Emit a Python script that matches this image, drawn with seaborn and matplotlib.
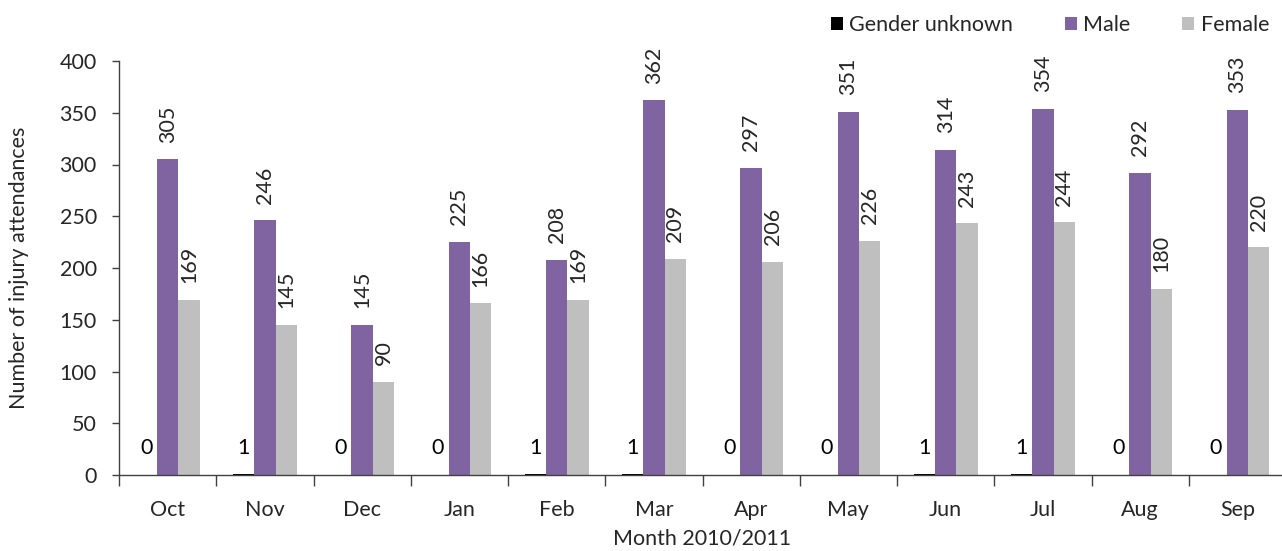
import matplotlib
matplotlib.use("Agg")
import matplotlib.pyplot as plt
import matplotlib.patches as mpatches
import seaborn as sns
import pandas as pd
import numpy as np

months = ["Oct", "Nov", "Dec", "Jan", "Feb", "Mar", "Apr", "May", "Jun", "Jul", "Aug", "Sep"]
series_names = ["Gender unknown", "Male", "Female"]
unknown = [0, 1, 0, 0, 1, 1, 0, 0, 1, 1, 0, 0]
male = [305, 246, 145, 225, 208, 362, 297, 351, 314, 354, 292, 353]
female = [169, 145, 90, 166, 169, 209, 206, 226, 243, 244, 180, 220]
colors = ["#000000", "#8064A2", "#BFBFBF"]

sns.set_theme(style="white")
plt.rcParams['font.family'] = ['Lato', 'DejaVu Sans']

df = pd.DataFrame({
    "Month": months * 3,
    "Series": [series_names[0]] * 12 + [series_names[1]] * 12 + [series_names[2]] * 12,
    "Value": unknown + male + female,
})

W, H = 1282, 551
fig = plt.figure(figsize=(W / 100, H / 100), dpi=100)
ax = fig.add_axes([119 / W, (H - 475) / H, 1167 / W, (475 - 61) / H])

sns.barplot(data=df, x="Month", y="Value", hue="Series", order=months,
            hue_order=series_names, palette=colors, width=0.66,
            saturation=1, ax=ax, legend=False, errorbar=None, linewidth=0)

ax.set_ylim(0, 400)
ax.set_xlim(-0.5, 11.5)
ax.set_yticks(range(0, 401, 50))
fs = 15.5
ax.tick_params(axis='y', labelsize=fs, length=5, width=1, color='#404040', direction='out', pad=11, left=True)
ax.set_xticks(np.arange(len(months)))
ax.set_xticklabels(months)
ax.tick_params(axis='x', which='major', labelsize=fs, length=0, pad=18)
ax.set_xticks(np.arange(-0.5, 12, 1), minor=True)
ax.tick_params(axis='x', which='minor', length=8, width=1, color='#404040', direction='out', bottom=True)

for side in ["top", "right"]:
    ax.spines[side].set_visible(False)
for side in ["left", "bottom"]:
    ax.spines[side].set_color('#404040')
    ax.spines[side].set_linewidth(1)

ax.set_xlabel("Month 2010/2011", fontsize=fs, labelpad=6)
ax.set_ylabel("Number of injury attendances", fontsize=fs, labelpad=22)

bw = 0.22
for i in range(len(months)):
    ax.text(i - bw, 26, str(unknown[i]), ha='center', va='center', fontsize=fs, color='black')
    ax.annotate(str(male[i]), (i, male[i]), xytext=(0, 12), textcoords='offset points',
                rotation=90, ha='center', va='bottom', fontsize=fs)
    ax.annotate(str(female[i]), (i + bw, female[i]), xytext=(0, 12), textcoords='offset points',
                rotation=90, ha='center', va='bottom', fontsize=fs)

handles = [mpatches.Patch(facecolor=c, edgecolor='none', label=n) for c, n in zip(colors, series_names)]
fig.legend(handles=handles, loc='upper right', bbox_to_anchor=(1.005, 1.008), ncol=3, frameon=False,
           fontsize=fs, handlelength=0.55, handleheight=0.55, handletextpad=0.3, columnspacing=2.4)

fig.savefig("out.png", dpi=100)
